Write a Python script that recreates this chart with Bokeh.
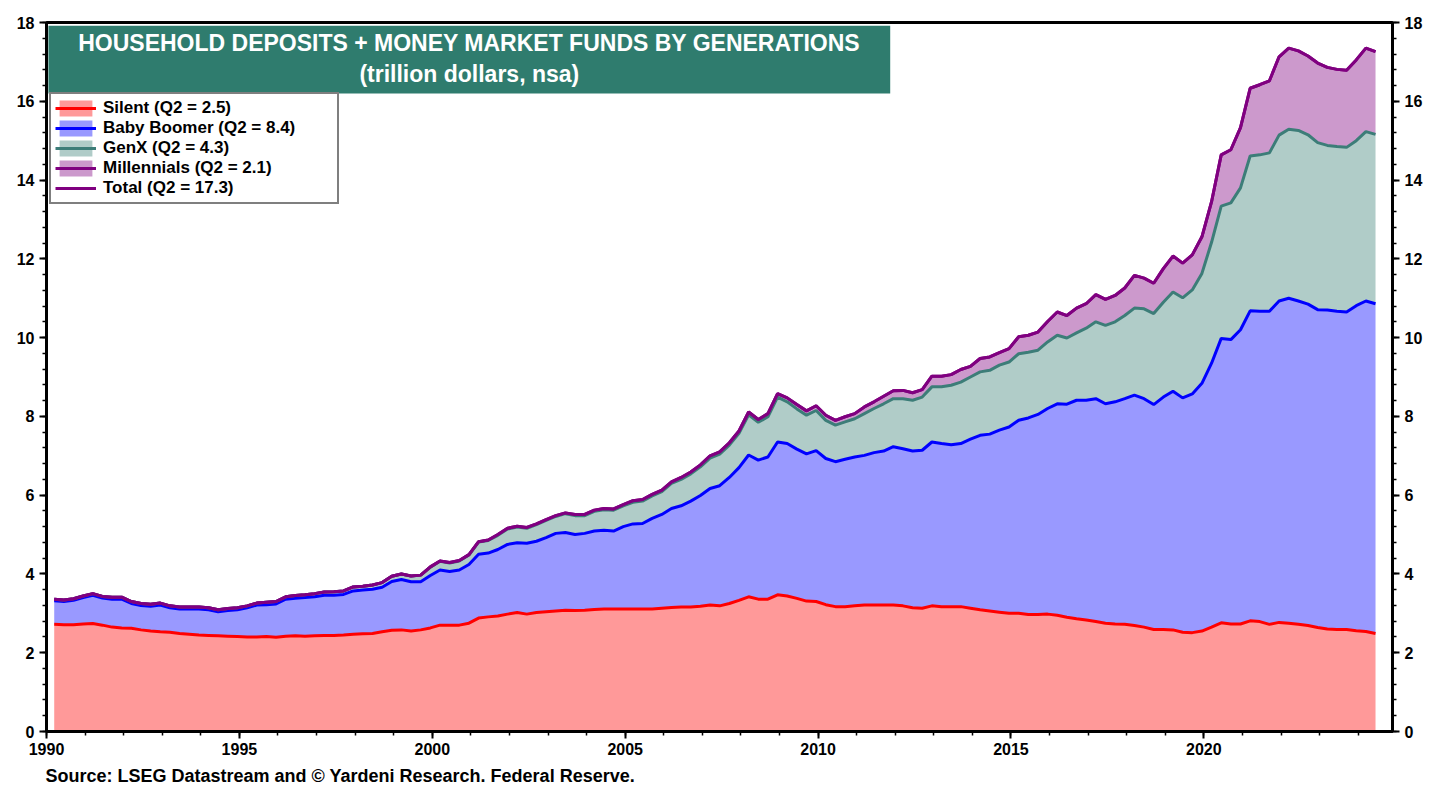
import numpy as np
from bokeh.plotting import figure
from bokeh.models import (Range1d, LinearAxis, SingleIntervalTicker, Legend,
                          LegendItem, Label, BoxAnnotation, ColumnDataSource, Title)
from bokeh.embed import file_html
from bokeh.resources import INLINE

# Quarterly data, 1990Q1 .. 2024Q2 (trillion dollars, nsa)
start_year = 1990

silent = [
    2.72, 2.71, 2.71, 2.73,  2.74, 2.70, 2.65, 2.63,  2.62, 2.58, 2.55, 2.53,
    2.52, 2.49, 2.47, 2.45,  2.44, 2.43, 2.42, 2.41,  2.40, 2.40, 2.41, 2.39,
    2.42, 2.43, 2.42, 2.43,  2.44, 2.44, 2.45, 2.47,  2.48, 2.49, 2.53, 2.57,
    2.58, 2.55, 2.58, 2.63,  2.70, 2.70, 2.70, 2.75,  2.88, 2.91, 2.93, 2.98,
    3.02, 2.98, 3.02, 3.04,  3.06, 3.08, 3.07, 3.08,  3.10, 3.11, 3.11, 3.11,
    3.11, 3.11, 3.11, 3.13,  3.15, 3.16, 3.16, 3.18,  3.21, 3.19, 3.25, 3.33,
    3.42, 3.36, 3.36, 3.47,  3.44, 3.38, 3.31, 3.30,  3.22, 3.17, 3.17, 3.19,
    3.21, 3.21, 3.21, 3.21,  3.19, 3.14, 3.13, 3.19,  3.17, 3.17, 3.17, 3.13,
    3.09, 3.06, 3.03, 3.00,  3.00, 2.97, 2.97, 2.98,  2.95, 2.90, 2.86, 2.83,
    2.79, 2.75, 2.73, 2.72,  2.69, 2.65, 2.59, 2.59,  2.58, 2.52, 2.51, 2.55,
    2.65, 2.76, 2.73, 2.73,  2.81, 2.79, 2.72, 2.77,  2.75, 2.72, 2.69, 2.64,
    2.60, 2.59, 2.59, 2.56,  2.54, 2.49,
]

boomer = [
    0.60, 0.59, 0.62, 0.67,  0.72, 0.69, 0.71, 0.73,  0.63, 0.62, 0.63, 0.68,
    0.62, 0.62, 0.64, 0.66,  0.65, 0.61, 0.65, 0.68,  0.74, 0.81, 0.81, 0.85,
    0.94, 0.95, 0.98, 0.99,  1.02, 1.02, 1.03, 1.10,  1.11, 1.12, 1.13, 1.24,
    1.28, 1.25, 1.22, 1.33,  1.40, 1.36, 1.40, 1.49,  1.62, 1.62, 1.69, 1.77,
    1.77, 1.80, 1.81, 1.88,  1.97, 1.97, 1.93, 1.95,  1.99, 2.00, 1.98, 2.09,
    2.16, 2.17, 2.30, 2.38,  2.51, 2.57, 2.69, 2.81,  2.96, 3.05, 3.20, 3.37,
    3.60, 3.53, 3.61, 3.88,  3.87, 3.79, 3.74, 3.83,  3.71, 3.68, 3.74, 3.78,
    3.80, 3.87, 3.91, 4.02,  3.99, 3.98, 4.01, 4.16,  4.14, 4.11, 4.14, 4.29,
    4.43, 4.49, 4.62, 4.73,  4.90, 4.99, 5.08, 5.22,  5.37, 5.41, 5.55, 5.58,
    5.66, 5.57, 5.64, 5.73,  5.85, 5.80, 5.71, 5.90,  6.06, 5.95, 6.06, 6.29,
    6.70, 7.22, 7.22, 7.47,  7.87, 7.88, 7.95, 8.16,  8.25, 8.21, 8.16, 8.07,
    8.10, 8.08, 8.06, 8.25,  8.39, 8.37,
]

genx = [
    0.04, 0.04, 0.04, 0.04,  0.04, 0.04, 0.05, 0.05,  0.05, 0.05, 0.05, 0.05,
    0.05, 0.05, 0.05, 0.05,  0.05, 0.05, 0.05, 0.05,  0.05, 0.05, 0.06, 0.06,
    0.06, 0.07, 0.07, 0.08,  0.08, 0.09, 0.09, 0.10,  0.10, 0.11, 0.12, 0.13,
    0.14, 0.15, 0.17, 0.21,  0.22, 0.22, 0.23, 0.24,  0.31, 0.32, 0.36, 0.39,
    0.40, 0.38, 0.42, 0.44,  0.43, 0.48, 0.48, 0.45,  0.50, 0.52, 0.53, 0.53,
    0.55, 0.57, 0.57, 0.58,  0.64, 0.67, 0.69, 0.73,  0.77, 0.80, 0.82, 0.87,
    1.02, 0.96, 1.02, 1.14,  1.06, 1.02, 0.98, 1.02,  0.97, 0.93, 0.95, 0.97,
    1.06, 1.12, 1.20, 1.22,  1.27, 1.29, 1.35, 1.40,  1.44, 1.51, 1.56, 1.58,
    1.61, 1.62, 1.65, 1.65,  1.69, 1.67, 1.63, 1.69,  1.74, 1.68, 1.71, 1.83,
    1.95, 1.99, 2.03, 2.11,  2.21, 2.28, 2.31, 2.41,  2.52, 2.54, 2.64, 2.79,
    3.07, 3.36, 3.47, 3.60,  3.93, 3.97, 4.02, 4.21,  4.29, 4.33, 4.30, 4.24,
    4.18, 4.18, 4.18, 4.19,  4.30, 4.30,
]

millennials = [
    0.00, 0.00, 0.00, 0.00,  0.00, 0.00, 0.00, 0.00,  0.00, 0.00, 0.00, 0.00,
    0.00, 0.00, 0.00, 0.00,  0.00, 0.00, 0.00, 0.00,  0.00, 0.00, 0.00, 0.00,
    0.00, 0.00, 0.00, 0.00,  0.00, 0.00, 0.00, 0.00,  0.00, 0.00, 0.00, 0.00,
    0.00, 0.00, 0.00, 0.01,  0.01, 0.01, 0.01, 0.01,  0.01, 0.01, 0.02, 0.02,
    0.02, 0.02, 0.02, 0.02,  0.02, 0.02, 0.03, 0.03,  0.03, 0.03, 0.03, 0.03,
    0.04, 0.04, 0.04, 0.04,  0.04, 0.05, 0.05, 0.05,  0.06, 0.06, 0.06, 0.06,
    0.07, 0.07, 0.08, 0.09,  0.10, 0.11, 0.11, 0.12,  0.13, 0.12, 0.13, 0.13,
    0.17, 0.17, 0.19, 0.20,  0.21, 0.19, 0.19, 0.27,  0.27, 0.27, 0.32, 0.27,
    0.34, 0.34, 0.32, 0.34,  0.43, 0.43, 0.46, 0.52,  0.59, 0.57, 0.63, 0.62,
    0.69, 0.66, 0.67, 0.70,  0.83, 0.78, 0.77, 0.85,  0.91, 0.88, 0.89, 0.93,
    1.03, 1.30, 1.35, 1.53,  1.72, 1.78, 1.83, 1.99,  2.06, 2.02, 2.00, 2.02,
    1.98, 1.96, 1.96, 2.05,  2.12, 2.10,
]

title_line1 = "HOUSEHOLD DEPOSITS + MONEY MARKET FUNDS BY GENERATIONS"
title_line2 = "(trillion dollars, nsa)"
source_text = "Source: LSEG Datastream and \u00a9 Yardeni Research. Federal Reserve."

# ---------------------------------------------------------------
n = len(silent)
t = [start_year + 0.2 + 0.25 * i for i in range(n)]
s = np.array(silent)
b = np.array(boomer)
g = np.array(genx)
m = np.array(millennials)
c1 = s
c2 = c1 + b
c3 = c2 + g
c4 = c3 + m
src = ColumnDataSource(dict(t=t, z=np.zeros(n), c1=c1, c2=c2, c3=c3, c4=c4))

FONT = "Liberation Sans"

p = figure(frame_width=1346, frame_height=709,
           min_border_left=46, min_border_right=44,
           min_border_top=22, min_border_bottom=56,
           x_range=Range1d(1990, 2024.89), y_range=Range1d(0, 18),
           output_backend="svg", toolbar_location=None,
           background_fill_color="white", border_fill_color="white")
p.xgrid.visible = False
p.ygrid.visible = False
p.outline_line_color = "black"
p.outline_line_width = 3

# areas
a1 = p.varea(x="t", y1="z", y2="c1", source=src, fill_color="#FF9999")
a2 = p.varea(x="t", y1="c1", y2="c2", source=src, fill_color="#9999FF")
a3 = p.varea(x="t", y1="c2", y2="c3", source=src, fill_color="#B0CCC8")
a4 = p.varea(x="t", y1="c3", y2="c4", source=src, fill_color="#CC99CC")

# lines
l1 = p.line(x="t", y="c1", source=src, line_color="#FF0000", line_width=3)
l2 = p.line(x="t", y="c2", source=src, line_color="#0000FF", line_width=3)
l3 = p.line(x="t", y="c3", source=src, line_color="#3C7D78", line_width=3)
l4 = p.line(x="t", y="c4", source=src, line_color="#800080", line_width=3)
l5 = p.line(x="t", y="c4", source=src, line_color="#800080", line_width=3)

# axes
p.xaxis.ticker = SingleIntervalTicker(interval=5, num_minor_ticks=5)
p.yaxis.ticker = SingleIntervalTicker(interval=2, num_minor_ticks=5)
right = LinearAxis(ticker=SingleIntervalTicker(interval=2, num_minor_ticks=5))
p.add_layout(right, "right")

for ax in [p.xaxis[0], p.yaxis[0], right]:
    ax.axis_line_width = 3
    ax.axis_line_color = "black"
    ax.major_tick_line_width = 2
    ax.minor_tick_line_width = 1.5
    ax.major_tick_out = 7
    ax.major_tick_in = 0
    ax.minor_tick_out = 4
    ax.minor_tick_in = 0
    ax.major_label_text_font = FONT
    ax.major_label_text_font_style = "bold"
    ax.major_label_text_font_size = "16px"
    ax.major_label_text_color = "black"
p.xaxis[0].major_label_standoff = 4
p.yaxis[0].major_label_standoff = 5
right.major_label_standoff = 5

# title box
p.add_layout(BoxAnnotation(left=1990.05, right=2011.87, top=17.92, bottom=16.20,
                           fill_color="#2F7C6E", fill_alpha=1.0, line_color=None))
p.add_layout(Label(x=2000.96, y=17.48, text=title_line1, text_align="center",
                   text_baseline="middle", text_font=FONT, text_font_style="bold",
                   text_font_size="23px", text_color="white"))
p.add_layout(Label(x=2000.96, y=16.68, text=title_line2, text_align="center",
                   text_baseline="middle", text_font=FONT, text_font_style="bold",
                   text_font_size="23px", text_color="white"))

# source line below the axis
p.add_layout(Title(text=source_text, align="left", text_font=FONT,
                   text_font_style="bold", text_font_size="18px",
                   text_color="black", standoff=12, offset=-1), "below")

# legend
def lab(name, v):
    return f"{name} (Q2 = {v:.1f})"

items = [
    LegendItem(label=lab("Silent", s[-1]), renderers=[a1, l1]),
    LegendItem(label=lab("Baby Boomer", b[-1]), renderers=[a2, l2]),
    LegendItem(label=lab("GenX", g[-1]), renderers=[a3, l3]),
    LegendItem(label=lab("Millennials", m[-1]), renderers=[a4, l4]),
    LegendItem(label=lab("Total", c4[-1]), renderers=[l5]),
]
legend = Legend(items=items, location=(3, 527), orientation="vertical",
                label_text_font=FONT, label_text_font_style="bold",
                label_text_font_size="17px", label_text_color="black",
                glyph_width=41, glyph_height=20, label_height=20, label_width=230,
                label_standoff=7, spacing=0, padding=4, margin=0,
                border_line_color="black", border_line_width=2,
                background_fill_color="white", background_fill_alpha=1.0)
p.add_layout(legend)

open("out.html", "w").write(file_html(p, INLINE))
